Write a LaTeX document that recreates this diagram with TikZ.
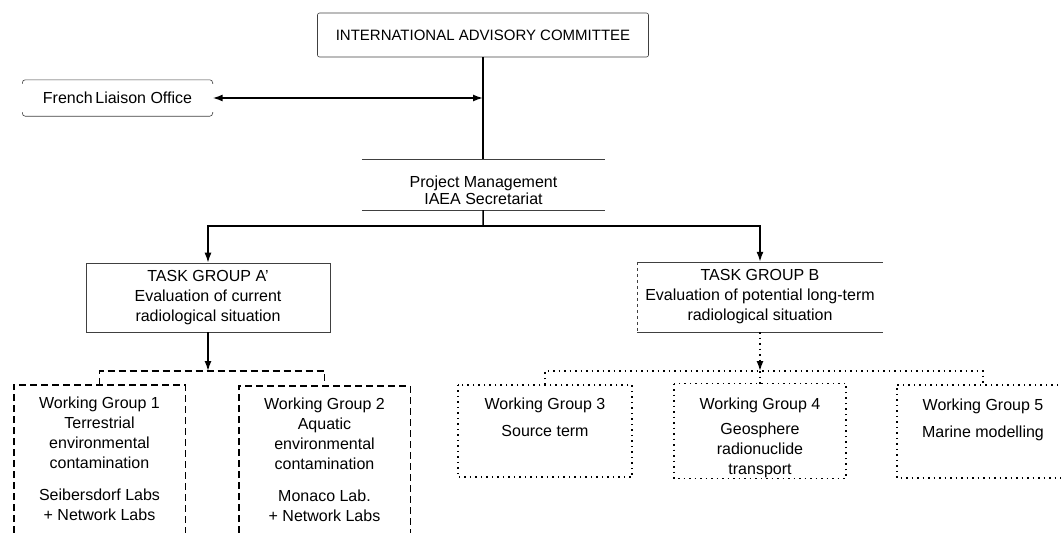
\documentclass[tikz,border=0pt]{standalone}
\usepackage{fontspec}
\setmainfont{Liberation Sans}
\usetikzlibrary{arrows.meta}

\begin{document}
\begin{tikzpicture}[x=1pt, y=1pt,
    every node/.style={font=\fontsize{16}{20}\selectfont, align=center, inner sep=0pt},
    thinbox/.style={draw=black!75, line width=0.6pt},
    link/.style={line width=1.5pt},
    arrowlink/.style={link, -{Latex[length=10pt,width=7pt]}},
    wgdash/.style={line width=1.4pt, dash pattern=on 7pt off 4pt},
    wgdot/.style={line width=1.5pt, dash pattern=on 1.5pt off 4pt}
]

\useasboundingbox (0,0) rectangle (1061,-533);

\node (iac) [thinbox,
    rounded corners=2pt,
    minimum width=331pt,
    minimum height=44pt,
    xshift=483pt,
    yshift=-35pt,
    font=\fontsize{15}{18}\selectfont
] {INTERNATIONAL ADVISORY COMMITTEE};

\node (flo) [minimum width=190pt,
    minimum height=36pt,
    xshift=117.5pt,
    yshift=-98pt
] {French\,Liaison Office};

\node (pm) [minimum width=243pt,
    minimum height=51pt,
    xshift=483.5pt,
    yshift=-184.5pt,
    font=\fontsize{16}{17}\selectfont
] {\rule{0pt}{23pt}Project Management\\IAEA Secretariat};

\node (tga) [thinbox,
    minimum width=244pt,
    minimum height=69pt,
    xshift=208pt,
    yshift=-297.5pt
] {TASK GROUP A'\\Evaluation of current\\radiological situation};

\node (tgb) [minimum width=245pt,
    minimum height=70pt,
    xshift=760pt,
    yshift=-297pt
] {TASK GROUP B\\Evaluation of potential long-term\\radiological situation};

\node (wg1) [minimum width=171pt,
    minimum height=148pt,
    xshift=99.5pt,
    yshift=-459pt
] {Working Group 1\\Terrestrial\\environmental\\contamination\\[12pt]Seibersdorf Labs\\+ Network Labs};

\node (wg2) [minimum width=171pt,
    minimum height=147pt,
    xshift=324.5pt,
    yshift=-459.5pt
] {Working Group 2\\Aquatic\\environmental\\contamination\\[12pt]Monaco Lab.\\+ Network Labs};

\node (wg3) [minimum width=174pt,
    minimum height=92pt,
    xshift=545pt,
    yshift=-431pt
] {Working Group 3\\[7pt]Source term\\[7pt]\mbox{}};

\node (wg4) [minimum width=172pt,
    minimum height=92pt,
    xshift=760pt,
    yshift=-431pt
] {\rule{0pt}{26pt}Working Group 4\\[5pt]Geosphere\\radionuclide\\transport};

\node (wg5) [minimum width=172pt,
    minimum height=93pt,
    xshift=983pt,
    yshift=-431.5pt
] {Working Group 5\\[7pt]Marine modelling\\[7pt]\mbox{}};

% box edges
\draw [thinbox, rounded corners=3pt] ([yshift=-4pt]flo.north west) -- (flo.north west) -- (flo.north east) -- ([yshift=-4pt]flo.north east);
\draw [thinbox, rounded corners=3pt] ([yshift=4pt]flo.south west) -- (flo.south west) -- (flo.south east) -- ([yshift=4pt]flo.south east);
\draw [thinbox] (pm.north west) -- (pm.north east);
\draw [thinbox] (pm.south west) -- (pm.south east);
\draw [thinbox] (tgb.north west) -- (tgb.north east);
\draw [thinbox] (tgb.south west) -- (tgb.south east);
\draw [thinbox, dashed] (tgb.north west) -- (tgb.south west);
\draw [wgdash] (wg1.south west) |- (wg1.north east) -- (wg1.south east);
\draw [wgdash] (wg2.south west) |- (wg2.north east) -- (wg2.south east);
\draw [wgdot] (wg3.north west) rectangle (wg3.south east);
\draw [wgdot] (wg4.north west) rectangle (wg4.south east);
\draw [wgdot] (wg5.north east) -- (wg5.north west) -- (wg5.south west) -- (wg5.south east);

\coordinate (split) at (483,-226);
\coordinate (abar) at (tga.south |- 0,-371);
\coordinate (bbar) at (tgb.south |- 0,-371);

\draw [link] (iac.south) -- (iac.south |- pm.north);
\draw [link, {Latex[length=10pt,width=7pt]}-{Latex[length=10pt,width=7pt]}] (flo.east) -- (flo.east -| iac.south);
\draw [link] (pm) -- (split);
\draw [arrowlink] (split) -| (tga.north);
\draw [arrowlink] (split) -| (tgb.north);

\draw [arrowlink] (tga) -- (abar);
\draw [wgdash] (wg1.north) |- (abar) -| (wg2.north);

\draw [wgdot, -{Latex[length=10pt,width=7pt]}] (tgb) -- (bbar);
\draw [wgdot] (wg3.north) |- (bbar) -| (wg5.north);
\draw [wgdot] (bbar) -- (wg4.north);

\end{tikzpicture}
\end{document}
